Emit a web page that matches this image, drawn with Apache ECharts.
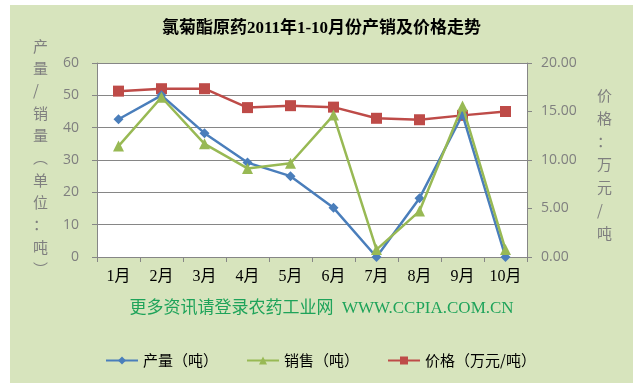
<!DOCTYPE html>
<html><head><meta charset="utf-8">
<script src="https://cdn.jsdelivr.net/npm/echarts@6/dist/echarts.min.js"></script>
<style>html,body{margin:0;padding:0;background:#fff}#c{width:643px;height:388px}</style>
</head><body><div id="c"></div>
<script>
const categories = ['1月','2月','3月','4月','5月','6月','7月','8月','9月','10月'];
const production = [42.6, 50.0, 38.3, 29.2, 25.0, 15.2, 0, 18.2, 44.0, 0];
const sales = [34.3, 49.4, 35.0, 27.4, 29.0, 43.9, 2.3, 14.2, 46.7, 2.3];
const price = [17.1, 17.35, 17.35, 15.4, 15.6, 15.45, 14.3, 14.15, 14.6, 15.0];
const leftTicks = [0, 10, 20, 30, 40, 50, 60];
const rightTicks = [0, 5, 10, 15, 20];
const titleText = '氯菊酯原药2011年1-10月份产销及价格走势';
const footerText = '更多资讯请登录农药工业网  WWW.CCPIA.COM.CN';
const leftName = ['产','量','/','销','量','︵','单','位','：','吨','︶'];
const rightName = ['价','格','：','万','元','/','吨'];

const serif = '"Liberation Serif", "DejaVu Serif", "Noto Sans CJK SC", serif';
const sans = '"Noto Sans CJK SC", sans-serif';
const chart = echarts.init(document.getElementById('c'));
chart.setOption({
  animation: false,
  backgroundColor: '#ffffff',
  graphic: [
    {type: 'rect', z: -10, silent: true, shape: {x: 10, y: 5, width: 623, height: 378}, style: {fill: '#d7e4bd'}},
    {type: 'text', left: 'center', top: 20, style: {text: titleText, font: 'bold 17px ' + serif, fill: '#000'}},
    {type: 'text', left: 33, top: 35, style: {text: leftName.join('\n'), font: '15px ' + sans, fill: '#7f7f7f', lineHeight: 22.3, align: 'center'}},
    {type: 'text', left: 597, top: 84, style: {text: rightName.join('\n'), font: '15px ' + sans, fill: '#7f7f7f', lineHeight: 23, align: 'center'}},
    {type: 'text', left: 'center', top: 300, style: {text: footerText, font: '17px ' + serif, fill: '#1ea35a'}}
  ],
  legend: {
    left: 100, top: 348, itemWidth: 32, itemHeight: 10, itemGap: 28,
    textStyle: {fontFamily: sans, fontSize: 15, color: '#000'},
    data: ['产量（吨）', '销售（吨）', '价格（万元/吨）']
  },
  grid: {left: 97, right: 116, top: 63, bottom: 131, show: true, backgroundColor: '#fff', borderWidth: 0},
  xAxis: {
    type: 'category', data: categories, boundaryGap: true,
    axisLine: {lineStyle: {color: '#868686', width: 1}},
    axisTick: {show: true, length: 5, lineStyle: {color: '#868686'}},
    axisLabel: {color: '#000', fontFamily: serif, fontSize: 16, margin: 12}
  },
  yAxis: [
    {type: 'value', min: 0, max: 60, interval: 10,
     axisLine: {show: true, lineStyle: {color: '#868686'}},
     axisTick: {show: true, length: 5, lineStyle: {color: '#868686'}},
     splitLine: {lineStyle: {color: '#868686', width: 1}},
     axisLabel: {color: '#7f7f7f', fontSize: 14, fontFamily: '"Open Sans", sans-serif', margin: 18}
    },
    {type: 'value', min: 0, max: 20, interval: 5, position: 'right',
     axisLine: {show: true, lineStyle: {color: '#868686'}},
     axisTick: {show: true, length: 5, lineStyle: {color: '#868686'}},
     splitLine: {show: false},
     axisLabel: {color: '#7f7f7f', fontSize: 14, fontFamily: '"Open Sans", sans-serif', margin: 14, formatter: v => v.toFixed(2)}
    }
  ],
  series: [
    {name: '产量（吨）', type: 'line', data: production, yAxisIndex: 0, symbol: 'diamond', symbolSize: 10,
     lineStyle: {color: '#4a7ebb', width: 2.5}, itemStyle: {color: '#4a7ebb'}, z: 3},
    {name: '销售（吨）', type: 'line', data: sales, yAxisIndex: 0, symbol: 'triangle', symbolSize: 11,
     lineStyle: {color: '#98b954', width: 2.5}, itemStyle: {color: '#98b954'}, z: 4},
    {name: '价格（万元/吨）', type: 'line', data: price, yAxisIndex: 1, symbol: 'rect', symbolSize: 11,
     lineStyle: {color: '#be4b48', width: 2.5}, itemStyle: {color: '#be4b48'}, z: 2}
  ]
});
</script></body></html>
